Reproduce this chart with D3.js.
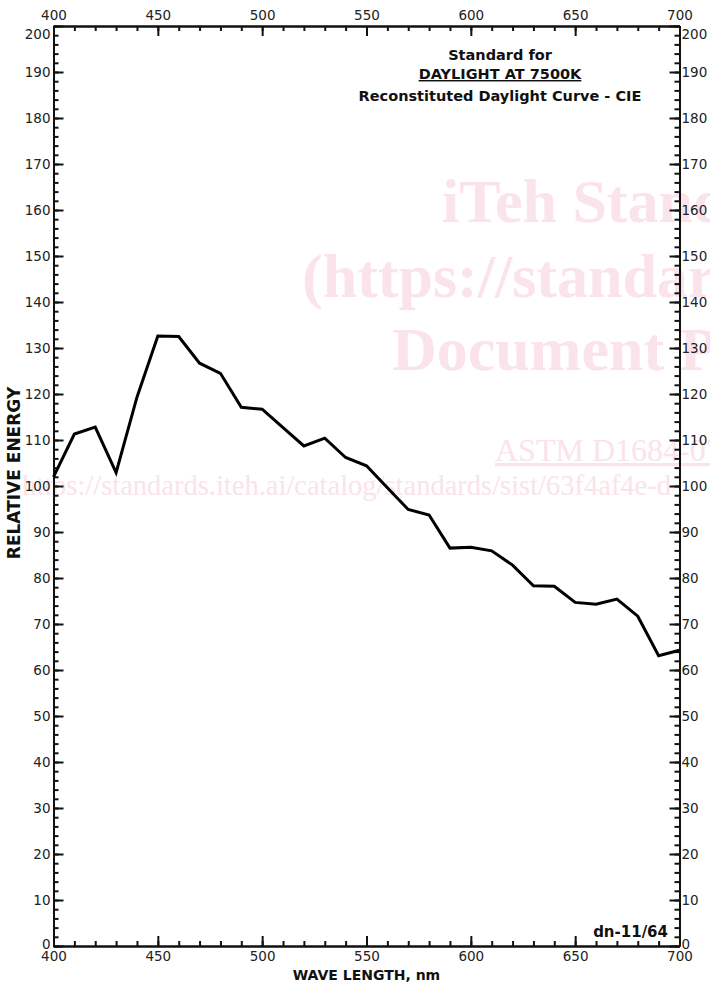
<!DOCTYPE html>
<html>
<head>
<meta charset="utf-8">
<script src="https://cdn.jsdelivr.net/npm/d3@7"></script>
<style>
  html, body { margin: 0; padding: 0; background: #fff; }
  svg { display: block; }
</style>
</head>
<body>
<script>
// ---- data ----
const wavelengths = [400,410,420,430,440,450,460,470,480,490,500,510,520,530,540,550,560,570,580,590,600,610,620,630,640,650,660,670,680,690,700];
const energy = [102.0,111.3,112.8,102.9,119.3,132.6,132.5,126.7,124.5,117.1,116.7,112.7,108.7,110.4,106.2,104.4,99.6,94.9,93.7,86.5,86.7,85.9,82.8,78.3,78.2,74.7,74.3,75.4,71.7,63.1,64.3];
const xMajorTicks = [400,450,500,550,600,650,700];
const yMajorTicks = [0,10,20,30,40,50,60,70,80,90,100,110,120,130,140,150,160,170,180,190,200];
const titleLines = ["Standard for", "DAYLIGHT AT 7500K", "Reconstituted Daylight Curve - CIE"];
const xTitle = "WAVE LENGTH, nm";
const yTitle = "RELATIVE ENERGY";
const codeLabel = "dn-11/64";
const watermarkBig = ["iTeh Standards", "(https://standards.iteh.ai)", "Document Preview"];
const watermarkRef = "ASTM D1684-07";
const watermarkUrl = "https://standards.iteh.ai/catalog/standards/sist/63f4af4e-d";

// ---- layout ----
const W = 710, H = 986;
const L = 53.5, R = 679.5, T = 26, B = 946;

const svg = d3.select("body").append("svg").attr("width", W).attr("height", H);

const x = d3.scaleLinear().domain([400, 700]).range([L, R]);
const y = d3.scaleLinear().domain([0, 200]).range([B, T]);

// ---- watermark ----
const wm = svg.append("g").attr("fill", "#fae3ea").attr("font-family", "'Liberation Serif', 'Times New Roman', serif");
const bigPos = [[442, 222], [302, 297], [392, 370]];
watermarkBig.forEach((t, i) => {
  wm.append("text").attr("x", bigPos[i][0]).attr("y", bigPos[i][1])
    .attr("font-size", 62).attr("font-weight", "bold").text(t);
});
wm.append("text").attr("x", 495).attr("y", 461).attr("font-size", 32)
  .attr("text-decoration", "underline").text(watermarkRef);
wm.append("text").attr("x", 22).attr("y", 495).attr("font-size", 28.5).text(watermarkUrl);

// ---- axes ----
const minorX = d3.range(400, 701, 10);
const minorY = d3.range(0, 201, 2);
const font = "'DejaVu Sans', Verdana, sans-serif";

function styleAxis(g) {
  g.selectAll("path.domain").attr("stroke", "#111").attr("stroke-width", 2);
  g.selectAll(".tick line").attr("stroke", "#111").attr("stroke-width", 2);
  g.selectAll(".tick text").attr("fill", "#222").attr("font-family", font).attr("font-size", 13.5);
}

// left
const gl1 = svg.append("g").attr("transform", `translate(${L},0)`)
  .call(d3.axisLeft(y).tickValues(minorY).tickSize(-5).tickSizeOuter(0).tickFormat(""));
const gl2 = svg.append("g").attr("transform", `translate(${L},0)`)
  .call(d3.axisLeft(y).tickValues(yMajorTicks).tickSize(-10).tickSizeOuter(0).tickPadding(3).tickFormat(d3.format("d")));
// right
const gr1 = svg.append("g").attr("transform", `translate(${R},0)`)
  .call(d3.axisRight(y).tickValues(minorY).tickSize(-5).tickSizeOuter(0).tickFormat(""));
const gr2 = svg.append("g").attr("transform", `translate(${R},0)`)
  .call(d3.axisRight(y).tickValues(yMajorTicks).tickSize(-10).tickSizeOuter(0).tickPadding(2).tickFormat(d3.format("d")));
// top
const gt1 = svg.append("g").attr("transform", `translate(0,${T})`)
  .call(d3.axisTop(x).tickValues(minorX).tickSize(-5).tickSizeOuter(0).tickFormat(""));
const gt2 = svg.append("g").attr("transform", `translate(0,${T})`)
  .call(d3.axisTop(x).tickValues(xMajorTicks).tickSize(-10).tickSizeOuter(0).tickPadding(6).tickFormat(d3.format("d")));
// bottom
const gb1 = svg.append("g").attr("transform", `translate(0,${B})`)
  .call(d3.axisBottom(x).tickValues(minorX).tickSize(-5).tickSizeOuter(0).tickFormat(""));
const gb2 = svg.append("g").attr("transform", `translate(0,${B})`)
  .call(d3.axisBottom(x).tickValues(xMajorTicks).tickSize(-10).tickSizeOuter(0).tickPadding(5).tickFormat(d3.format("d")));

[gl1, gl2, gr1, gr2, gt1, gt2, gb1, gb2].forEach(styleAxis);

// nudge end labels like the reference
[gl2, gr2].forEach(g => {
  g.selectAll(".tick text").filter(d => d === 200).attr("dy", "0.95em");
  g.selectAll(".tick text").filter(d => d === 0).attr("dy", "0.15em");
});

// ---- curve ----
const pts = wavelengths.map((w, i) => [w, energy[i]]);
svg.append("path")
  .datum(pts)
  .attr("fill", "none")
  .attr("stroke", "#000")
  .attr("stroke-width", 3)
  .attr("stroke-linejoin", "miter")
  .attr("d", d3.line().x(d => x(d[0])).y(d => y(d[1])));

// ---- texts ----
const bold = svg.append("g").attr("font-family", font).attr("font-weight", "bold").attr("fill", "#111");
const titleY = [60, 79, 101];
titleLines.forEach((t, i) => {
  bold.append("text").attr("x", 500).attr("y", titleY[i]).attr("text-anchor", "middle")
    .attr("font-size", 14.5).attr("text-decoration", i === 1 ? "underline" : null).text(t);
});
bold.append("text").attr("x", 668).attr("y", 937).attr("text-anchor", "end")
  .attr("font-size", 15).text(codeLabel);
bold.append("text").attr("x", (L + R) / 2).attr("y", 980).attr("text-anchor", "middle")
  .attr("font-size", 14).text(xTitle);
bold.append("text").attr("transform", `translate(20,473) rotate(-90)`)
  .attr("text-anchor", "middle").attr("font-size", 17).text(yTitle);
</script>
</body>
</html>
